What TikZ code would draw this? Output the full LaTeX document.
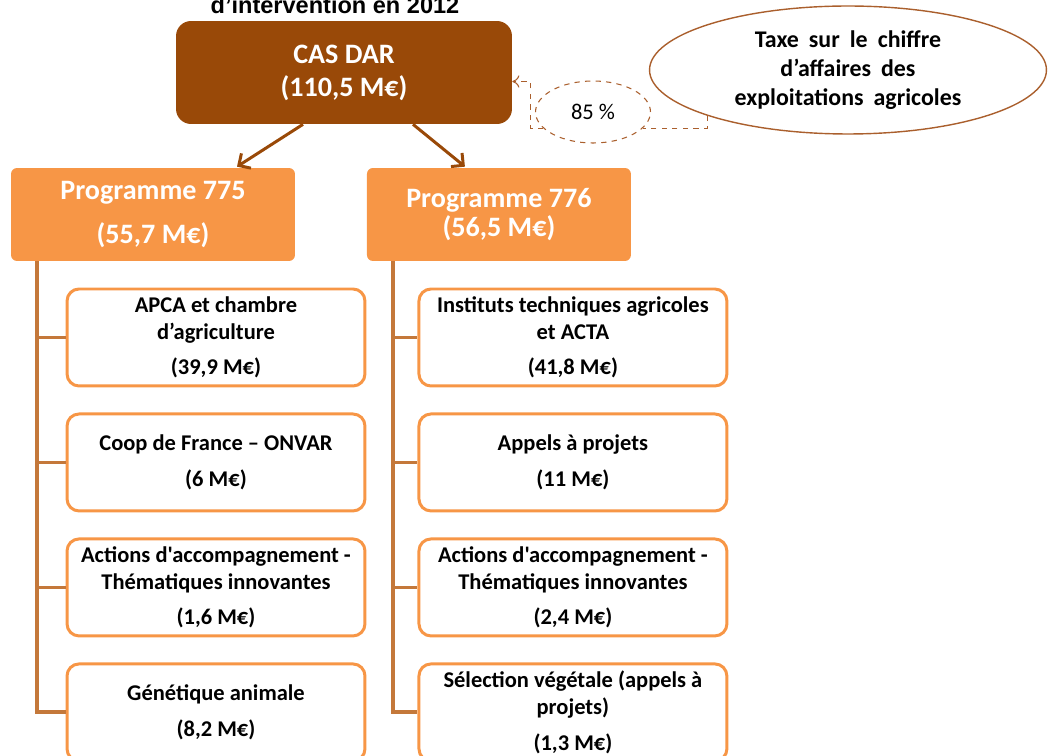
\documentclass[tikz,border=0pt]{standalone}
\usepackage{fontspec}
\setmainfont{Carlito}[Ligatures=TeXOff]
\newfontfamily\titlefont{Liberation Sans}
\usetikzlibrary{arrows.meta,positioning,calc,shapes.geometric}

\definecolor{casbrown}{RGB}{153,73,8}
\definecolor{progorange}{RGB}{247,150,70}
\definecolor{treebrown}{RGB}{196,120,58}
\definecolor{linkbrown}{RGB}{170,95,45}

\newcommand\widewords{\spaceskip=0.42em\relax}

\tikzset{
  casbox/.style={rectangle, rounded corners=0.3cm, fill=casbrown, text=white,
    font=\bfseries\fontsize{16}{18.7}\selectfont, align=center,
    minimum width=6.72cm, minimum height=2.06cm, inner sep=0pt},
  progbox/.style={rectangle, rounded corners=0.12cm, fill=progorange, text=white,
    font=\bfseries\fontsize{16}{17}\selectfont, align=center,
    minimum height=1.86cm, inner sep=0pt},
  actbox/.style={rectangle, rounded corners=0.24cm, draw=progorange, line width=1.7pt,
    fill=white, font=\bfseries\fontsize{12.8}{15.3}\selectfont, align=center,
    minimum height=1.94cm, inner sep=0pt},
  taxbubble/.style={ellipse, draw=linkbrown, line width=0.8pt,
    font=\bfseries\fontsize{13.6}{16.4}\selectfont\widewords, align=center,
    minimum width=7.94cm, minimum height=2.56cm, inner sep=0pt},
  pctbubble/.style={ellipse, draw=linkbrown, dashed, line width=0.6pt,
    font=\fontsize{12.8}{15}\selectfont,
    minimum width=2.3cm, minimum height=1.24cm, inner sep=0pt},
  casarrow/.style={draw=casbrown, line width=1.7pt, -{Straight Barb[length=5pt,width=10pt]}},
  trunk/.style={draw=treebrown, line width=2.2pt},
  dashlink/.style={draw=linkbrown, dashed, line width=0.6pt}
}

\begin{document}
\begin{tikzpicture}[x=0.02cm, y=-0.02cm, on grid, node distance=2.5cm]
    \useasboundingbox (0,0) rectangle (1049,756);
    \clip (0,0) rectangle (1049,756);
    \node[font=\titlefont\bfseries\fontsize{13.4}{16}\selectfont, anchor=base] (title) at (335,14) {d’intervention en 2012};
    \node[casbox] (casdar) at (344,72.5) {CAS DAR\\(110,5 M€)};
    \node[taxbubble] (taxe) at (848,70) {Taxe sur le chiffre\\d’affaires des\\exploitations agricoles};
    \node[pctbubble] (pct) at (593,112) {85 \%};
    \node[progbox, minimum width=5.68cm] (p775) at (153,214.5) {Programme 775\\[8pt](55,7 M€)};
    \node[progbox, minimum width=5.28cm, right=6.92cm of p775] (p776) {Programme 776\\(56,5 M€)};
    % programme 775
    \node[actbox, minimum width=5.96cm] (a1) at (216,337.5) {APCA et chambre\\d’agriculture\\[5pt](39,9 M€)};
    \node[actbox, minimum width=5.96cm, below=of a1] (a2) {Coop de France – ONVAR\\[5pt](6 M€)};
    \node[actbox, minimum width=5.96cm, below=of a2] (a3) {Actions d'accompagnement -\\Thématiques innovantes\\[5pt](1,6 M€)};
    \node[actbox, minimum width=5.96cm, below=of a3] (a4) {Génétique animale\\[5pt](8,2 M€)};
    % programme 776
    \node[actbox, minimum width=6.16cm, right=7.14cm of a1] (b1) {Instituts techniques agricoles\\et ACTA\\[5pt](41,8 M€)};
    \node[actbox, minimum width=6.16cm, below=of b1] (b2) {Appels à projets\\[5pt](11 M€)};
    \node[actbox, minimum width=6.16cm, below=of b2] (b3) {Actions d'accompagnement -\\Thématiques innovantes\\[5pt](2,4 M€)};
    \node[actbox, minimum width=6.16cm, below=of b3] (b4) {Sélection végétale (appels à\\projets)\\[5pt](1,3 M€)};
    % CAS DAR split
    \draw[casarrow] ($(casdar.south)+(-41,0)$) -- ($(p775.north)+(84,-1)$);
    \draw[casarrow] ($(casdar.south)+(69,0)$) -- ($(p776.north)+(-34,-1)$);
    % tax share
    \draw[dashlink] (taxe.198) |- (pct.-18);
    \draw[dashlink,-{To[length=4pt,width=7pt]}] (pct.198) -- ++(-13,0) |- ($(casdar.east)+(0,9)$);
    % left tree
    \draw[trunk] ($(p775.south west)+(26,0)$) |- (a1.west);
    \draw[trunk] ($(p775.south west)+(26,0)$) |- (a2.west);
    \draw[trunk] ($(p775.south west)+(26,0)$) |- (a3.west);
    \draw[trunk] ($(p775.south west)+(26,0)$) |- (a4.west);
    % right tree
    \draw[trunk] ($(p776.south west)+(26,0)$) |- (b1.west);
    \draw[trunk] ($(p776.south west)+(26,0)$) |- (b2.west);
    \draw[trunk] ($(p776.south west)+(26,0)$) |- (b3.west);
    \draw[trunk] ($(p776.south west)+(26,0)$) |- (b4.west);
\end{tikzpicture}
\end{document}
